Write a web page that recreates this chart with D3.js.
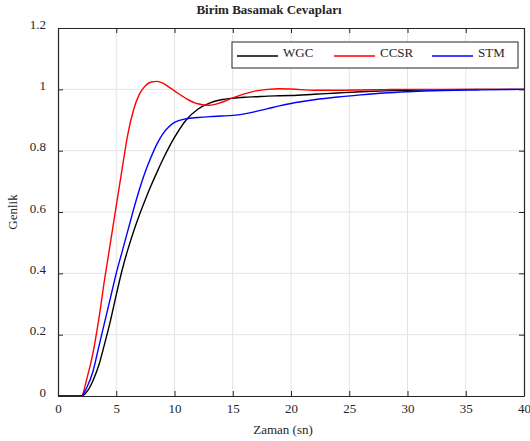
<!DOCTYPE html>
<html lang="tr">
<head>
    <meta charset="UTF-8">
    <title>Birim Basamak Cevapları</title>
    <script src="https://d3js.org/d3.v7.min.js"></script>
    <style>
        body { margin: 0; background: white; }
        svg text { font-family: "Liberation Serif", "Times New Roman", Times, serif; fill: #262626; }
    </style>
</head>
<body>
    <div id="chart"></div>
    <script>
        const width = 530;
        const height = 441;

        // zaman ekseni (sn)
        const zaman = [0, 2, 2.5, 3, 3.5, 4, 4.5, 5, 5.5, 6, 6.5, 7, 7.5, 8, 8.5, 9, 9.5, 10,
            11, 12, 13, 14, 15, 16, 17, 18, 19, 20, 22, 24, 26, 28, 30, 33, 36, 40];

        const wgc = [0, 0, 0.015, 0.05, 0.10, 0.17, 0.245, 0.33, 0.41, 0.478, 0.538, 0.592, 0.641, 0.687, 0.73, 0.771, 0.809, 0.843,
            0.9, 0.935, 0.955, 0.966, 0.971, 0.974, 0.976, 0.978, 0.979, 0.98, 0.984, 0.988, 0.992, 0.995, 0.997, 0.999, 1.0, 1.0];

        const ccsr = [0, 0, 0.06, 0.14, 0.25, 0.38, 0.50, 0.62, 0.74, 0.855, 0.935, 0.985, 1.012, 1.024, 1.026, 1.02, 1.008, 0.995,
            0.97, 0.953, 0.948, 0.957, 0.972, 0.985, 0.995, 1.0, 1.002, 1.001, 0.997, 0.997, 0.998, 0.999, 1.0, 1.0, 1.0, 1.0];

        const stm = [0, 0, 0.03, 0.08, 0.16, 0.24, 0.32, 0.40, 0.47, 0.54, 0.61, 0.675, 0.732, 0.78, 0.822, 0.855, 0.877, 0.892,
            0.904, 0.908, 0.911, 0.913, 0.915, 0.92, 0.928, 0.937, 0.946, 0.954, 0.966, 0.975, 0.982, 0.988, 0.992, 0.996, 0.998, 1.0];

        const seriler = [
            { ad: "WGC", renk: "#000000", deger: wgc },
            { ad: "CCSR", renk: "#ff0000", deger: ccsr },
            { ad: "STM", renk: "#0000ff", deger: stm }
        ];

        const xTicks = [0, 5, 10, 15, 20, 25, 30, 35, 40];
        const yTicks = [0, 0.2, 0.4, 0.6, 0.8, 1, 1.2];

        const margin = { left: 58, right: 6, top: 28, bottom: 45 };

        const x = d3.scaleLinear().domain([0, 40]).range([margin.left, width - margin.right]);
        const y = d3.scaleLinear().domain([0, 1.2]).range([height - margin.bottom, margin.top]);

        const svg = d3.select("#chart").append("svg")
            .attr("width", width)
            .attr("height", height);

        // grid
        svg.append("g").selectAll("line")
            .data(xTicks.slice(1, -1)).enter().append("line")
            .attr("x1", d => x(d)).attr("x2", d => x(d))
            .attr("y1", y(0)).attr("y2", y(1.2))
            .attr("stroke", "#e3e3e3").attr("stroke-width", 1);
        svg.append("g").selectAll("line")
            .data(yTicks.slice(1, -1)).enter().append("line")
            .attr("x1", x(0)).attr("x2", x(40))
            .attr("y1", d => y(d)).attr("y2", d => y(d))
            .attr("stroke", "#e3e3e3").attr("stroke-width", 1);

        // curves
        const line = d3.line()
            .x((d, i) => x(zaman[i]))
            .y(d => y(d))
            .curve(d3.curveMonotoneX);

        svg.append("g").selectAll("path")
            .data(seriler).enter().append("path")
            .attr("d", d => line(d.deger))
            .attr("fill", "none")
            .attr("stroke", d => d.renk)
            .attr("stroke-width", 1.4);

        // axes (box with inward ticks)
        const axisColor = "#262626";
        const xb = svg.append("g").attr("transform", `translate(0,${y(0)})`)
            .call(d3.axisBottom(x).tickValues(xTicks).tickSizeInner(-5).tickSizeOuter(0));
        const xt = svg.append("g").attr("transform", `translate(0,${y(1.2)})`)
            .call(d3.axisTop(x).tickValues(xTicks).tickSizeInner(-5).tickSizeOuter(0).tickFormat(""));
        const yl = svg.append("g").attr("transform", `translate(${x(0)},0)`)
            .call(d3.axisLeft(y).tickValues(yTicks).tickSizeInner(-5).tickSizeOuter(0).tickFormat(d3.format("~g")));
        const yr = svg.append("g").attr("transform", `translate(${x(40)},0)`)
            .call(d3.axisRight(y).tickValues(yTicks).tickSizeInner(-5).tickSizeOuter(0).tickFormat(""));

        [xb, xt, yl, yr].forEach(g => {
            g.attr("font-family", null).attr("font-size", null);
            g.selectAll("path, line").attr("stroke", axisColor);
            g.select(".domain").attr("stroke-width", 1.2);
            g.selectAll("text").attr("font-size", 13).attr("fill", axisColor);
        });
        xb.selectAll("text").attr("y", 17).attr("dy", 0);
        yl.selectAll("text").attr("x", -12).attr("dy", 0);

        // title and labels
        svg.append("text")
            .attr("x", 269).attr("y", 14)
            .attr("text-anchor", "middle")
            .attr("font-size", 13).attr("font-weight", "bold")
            .text("Birim Basamak Cevapları");

        svg.append("text")
            .attr("x", 283).attr("y", 434)
            .attr("text-anchor", "middle")
            .attr("font-size", 13)
            .text("Zaman (sn)");

        svg.append("text")
            .attr("transform", `translate(17,212) rotate(-90)`)
            .attr("text-anchor", "middle")
            .attr("font-size", 13)
            .text("Genlik");

        // legend
        const leg = svg.append("g").attr("transform", "translate(232,42)");
        leg.append("rect")
            .attr("width", 286).attr("height", 26)
            .attr("fill", "white").attr("stroke", axisColor).attr("stroke-width", 1);
        const legX = [5, 102, 200];
        seriler.forEach((s, i) => {
            leg.append("line")
                .attr("x1", legX[i]).attr("x2", legX[i] + 41)
                .attr("y1", 14).attr("y2", 14)
                .attr("stroke", s.renk).attr("stroke-width", 1.4);
            leg.append("text")
                .attr("x", legX[i] + 46).attr("y", 15)
                .attr("font-size", 13)
                .text(s.ad);
        });
    </script>
</body>
</html>
